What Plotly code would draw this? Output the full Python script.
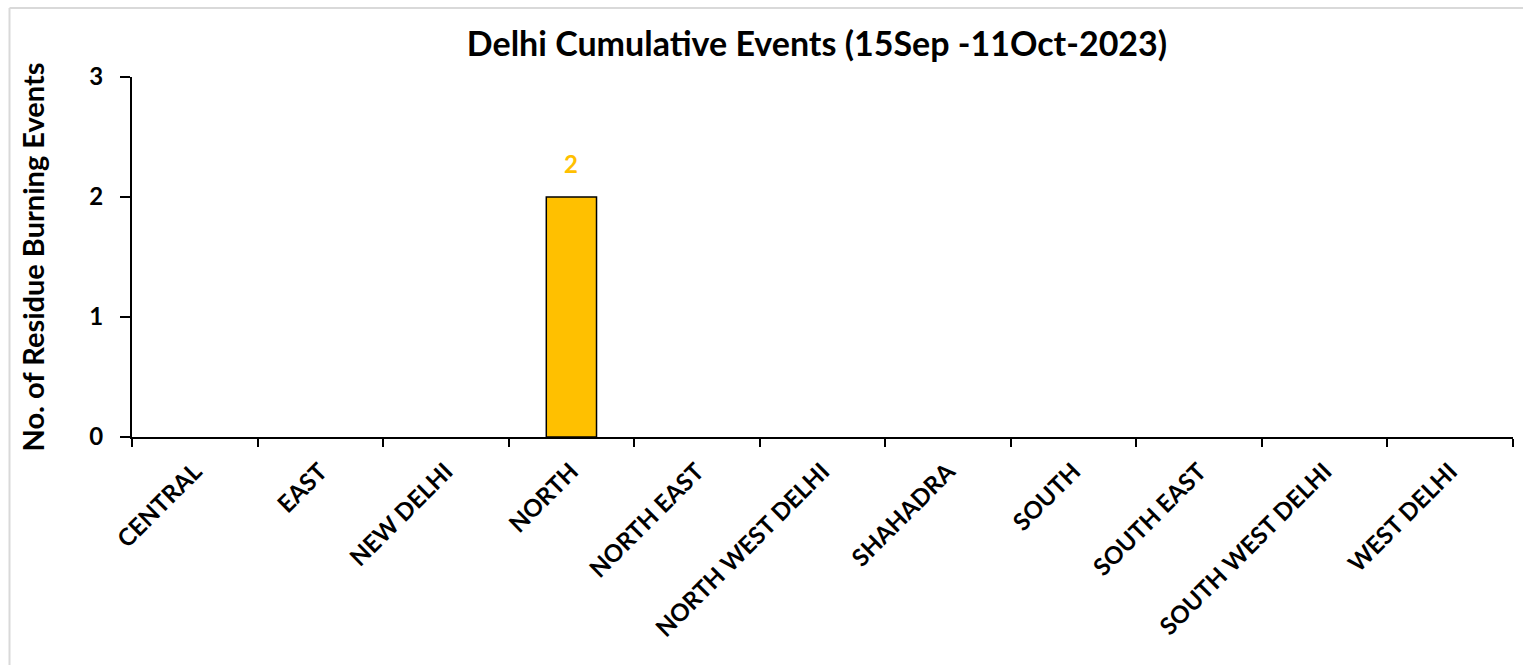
import plotly.graph_objects as go

categories = ["CENTRAL", "EAST", "NEW DELHI", "NORTH", "NORTH EAST", "NORTH WEST DELHI",
              "SHAHADRA", "SOUTH", "SOUTH EAST", "SOUTH WEST DELHI", "WEST DELHI"]
values = [0, 0, 0, 2, 0, 0, 0, 0, 0, 0, 0]
y_ticks = [0, 1, 2, 3]
title_text = "Delhi Cumulative Events (15Sep -11Oct-2023)"
y_title = "No. of Residue Burning Events"

W, H = 1523, 665
L, R, T, B = 132, 10, 77, 228
FONT = "Lato, 'Open Sans', sans-serif"
BAR_COLOR = "#FFC000"

line_widths = [1.5 if v > 0 else 0 for v in values]

fig = go.Figure(go.Bar(
    x=categories, y=values,
    marker=dict(color=BAR_COLOR, line=dict(color="#000000", width=line_widths)),
    width=0.4,
))

for c, v in zip(categories, values):
    if v > 0:
        fig.add_annotation(x=c, y=v, text=str(v), showarrow=False,
                           yanchor="bottom", yshift=17,
                           font=dict(family=FONT, size=24, color=BAR_COLOR, weight="bold"))

pw = W - L - R
ph = H - T - B
def px_x(p):
    return (p - L) / pw
def px_y(p):
    return 1 - (p - T) / ph

fig.update_layout(
    width=W, height=H,
    margin=dict(l=L, r=R, t=T, b=B, autoexpand=False),
    paper_bgcolor="white", plot_bgcolor="white",
    showlegend=False,
    title=dict(text=title_text, x=px_x(817), xanchor="center", xref="paper",
               y=1 - 44 / H, yanchor="middle",
               font=dict(family=FONT, size=34, color="#000000", weight="bold")),
    xaxis=dict(
        type="category", tickangle=-45, tickson="boundaries",
        ticks="outside", ticklen=8, tickwidth=1.5, tickcolor="#000000",
        showline=True, linecolor="#000000", linewidth=2,
        showgrid=False, zeroline=False, ticklabelstandoff=9,
        tickfont=dict(family=FONT, size=24, color="#000000", weight="bold"),
    ),
    yaxis=dict(
        range=[0, 3], tickvals=y_ticks,
        ticks="outside", ticklen=10, tickwidth=1.5, tickcolor="#000000",
        showline=True, linecolor="#000000", linewidth=2,
        showgrid=False, zeroline=False, ticklabelstandoff=12,
        tickfont=dict(family=FONT, size=24, color="#000000", weight="bold"),
        title=dict(text=y_title, standoff=36,
                   font=dict(family=FONT, size=29, color="#000000", weight="bold")),
    ),
    shapes=[
        dict(type="line", xref="paper", yref="paper",
             x0=px_x(9.5), x1=px_x(W + 5), y0=px_y(8), y1=px_y(8),
             line=dict(color="#D9D9D9", width=2)),
        dict(type="line", xref="paper", yref="paper",
             x0=px_x(9.5), x1=px_x(9.5), y0=px_y(8), y1=px_y(H + 5),
             line=dict(color="#D9D9D9", width=2)),
    ],
)

fig.write_html("out.html", config={"displayModeBar": False},
               post_script="document.body.style.margin='0';document.body.style.overflow='hidden';")
